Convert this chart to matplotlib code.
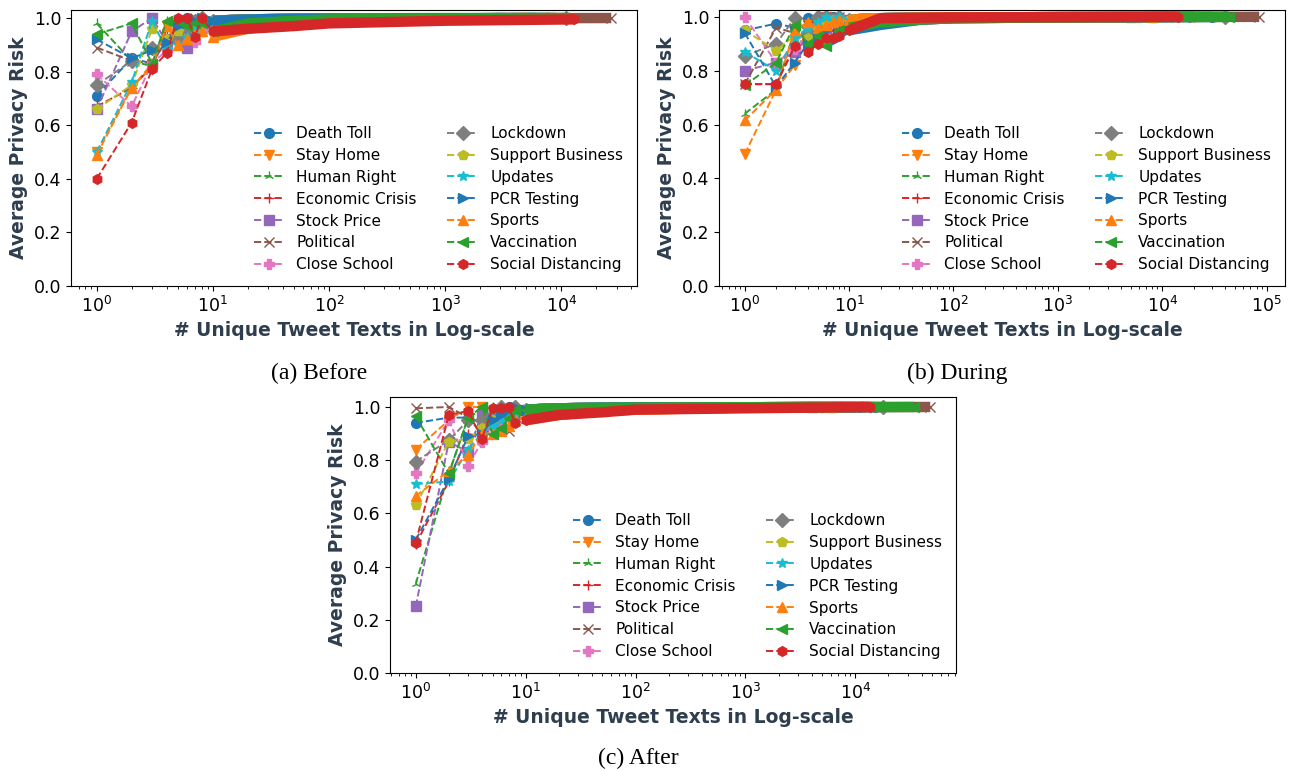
import matplotlib
matplotlib.use("Agg")
import matplotlib.pyplot as plt

# ---------------- data ----------------
topics = ["Death Toll", "Stay Home", "Human Right", "Economic Crisis", "Stock Price",
          "Political", "Close School", "Lockdown", "Support Business", "Updates",
          "PCR Testing", "Sports", "Vaccination", "Social Distancing"]
markers = ["o", "v", "2", "+", "s", "x", "P", "D", "p", "*", ">", "^", "<", "h"]
colors = ["#1f77b4", "#ff7f0e", "#2ca02c", "#d62728", "#9467bd", "#8c564b", "#e377c2",
          "#7f7f7f", "#bcbd22", "#17becf", "#1f77b4", "#ff7f0e", "#2ca02c", "#d62728"]

# x positions shared by every series (last x of each series given separately)
x_points = [1, 2, 3, 4, 5, 6, 7, 8, 10, 20, 50, 100, 1000]

# (a) Before
before_last_x = [9000, 8000, 7000, 6000, 3000, 27000, 4000, 11000, 5000, 6000, 8000, 5000, 12000, 13000]
before_y = [
    [0.71, 0.85, 0.83, 0.92, 0.98, 1.00, 0.99, 1.00, 0.99, 0.995, 0.997, 0.998, 0.999, 1.0],
    [0.50, 0.74, 0.83, 0.97, 0.95, 0.97, 0.99, 0.98, 0.97, 0.98, 0.99, 0.995, 0.998, 1.0],
    [0.98, 0.84, 0.82, 0.99, 0.99, 1.00, 0.99, 1.00, 0.99, 0.995, 0.998, 0.999, 1.0, 1.0],
    [0.67, 0.74, 0.82, 0.96, 1.00, 0.98, 0.99, 0.99, 0.98, 0.99, 0.995, 0.997, 0.999, 1.0],
    [0.66, 0.95, 1.00, 0.91, 0.93, 0.89, 0.95, 0.97, 0.98, 0.99, 0.995, 0.997, 0.999, 1.0],
    [0.89, 0.84, 0.83, 0.92, 0.97, 0.99, 1.00, 0.99, 0.99, 0.995, 0.997, 0.998, 0.999, 1.0],
    [0.79, 0.67, 0.83, 0.88, 0.93, 0.92, 0.91, 0.95, 0.97, 0.98, 0.99, 0.995, 0.998, 1.0],
    [0.75, 0.84, 0.89, 0.91, 0.93, 0.96, 0.99, 1.00, 0.99, 0.995, 0.997, 0.998, 0.999, 1.0],
    [0.66, 0.75, 0.96, 0.92, 0.95, 0.98, 0.97, 0.99, 0.99, 0.995, 0.997, 0.998, 0.999, 1.0],
    [0.50, 0.76, 0.99, 0.88, 0.90, 0.93, 0.96, 0.98, 0.99, 0.99, 0.995, 0.997, 0.999, 1.0],
    [0.92, 0.85, 0.88, 0.91, 0.97, 0.98, 0.99, 1.00, 0.99, 0.995, 0.997, 0.998, 0.999, 1.0],
    [0.49, 0.74, 0.82, 0.97, 0.90, 0.92, 0.94, 0.95, 0.93, 0.96, 0.98, 0.99, 0.995, 1.0],
    [0.94, 0.98, 0.83, 0.99, 0.99, 0.97, 0.98, 0.98, 0.95, 0.98, 0.99, 0.995, 0.998, 1.0],
    [0.40, 0.61, 0.81, 0.87, 1.00, 1.00, 0.93, 1.00, 0.95, 0.96, 0.97, 0.98, 0.99, 0.995],
]

# (b) During
during_last_x = [30000, 20000, 15000, 12000, 5000, 85000, 6000, 40000, 10000, 25000, 20000, 8000, 44000, 14000]
during_y = [
    [0.95, 0.975, 0.96, 0.995, 0.99, 1.00, 1.00, 0.99, 0.99, 0.995, 0.997, 0.998, 0.999, 1.0],
    [0.49, 0.73, 0.82, 0.97, 0.99, 1.00, 0.99, 0.99, 0.98, 0.99, 0.995, 0.997, 0.999, 1.0],
    [0.64, 0.73, 0.95, 0.90, 0.93, 0.96, 0.98, 0.99, 0.99, 0.995, 0.997, 0.998, 0.999, 1.0],
    [0.75, 0.75, 0.89, 0.88, 0.91, 0.93, 0.95, 0.96, 0.97, 0.98, 0.99, 0.995, 0.998, 1.0],
    [0.80, 0.83, 0.87, 0.92, 0.94, 0.96, 0.98, 0.99, 0.99, 0.995, 0.997, 0.998, 0.999, 1.0],
    [0.75, 0.96, 0.94, 0.97, 0.99, 1.00, 0.99, 1.00, 0.99, 0.995, 0.997, 0.998, 0.999, 1.0],
    [1.00, 0.83, 0.88, 0.94, 0.96, 0.98, 0.99, 0.99, 0.99, 0.995, 0.997, 0.998, 0.999, 1.0],
    [0.855, 0.90, 0.995, 0.94, 1.00, 1.00, 0.99, 1.00, 0.99, 0.995, 0.997, 0.998, 0.999, 1.0],
    [0.95, 0.875, 0.93, 0.92, 0.96, 0.98, 0.99, 0.99, 0.99, 0.995, 0.997, 0.998, 0.999, 1.0],
    [0.87, 0.80, 0.92, 0.96, 0.98, 1.00, 0.99, 1.00, 0.99, 0.995, 0.997, 0.998, 0.999, 1.0],
    [0.94, 0.74, 0.83, 0.90, 0.93, 0.95, 0.91, 0.93, 0.95, 0.97, 0.99, 0.995, 0.998, 1.0],
    [0.615, 0.73, 0.95, 0.98, 0.96, 0.97, 0.98, 0.99, 0.99, 0.995, 0.997, 0.998, 0.999, 1.0],
    [0.745, 0.83, 0.97, 0.90, 0.93, 0.89, 0.93, 0.95, 0.96, 0.98, 0.99, 0.995, 0.998, 1.0],
    [0.75, 0.75, 0.89, 0.87, 0.90, 0.92, 0.92, 0.93, 0.95, 0.995, 0.997, 0.998, 0.999, 1.0],
]

# (c) After
after_last_x = [15000, 12000, 10000, 8000, 4000, 48000, 5000, 18000, 7000, 9000, 12000, 6000, 34000, 13500]
after_y = [
    [0.94, 0.96, 0.96, 0.90, 0.95, 0.99, 1.00, 0.99, 0.99, 0.995, 0.997, 0.998, 0.999, 1.0],
    [0.84, 0.95, 1.00, 1.00, 0.92, 0.93, 0.95, 0.97, 0.95, 0.97, 0.985, 0.99, 0.998, 1.0],
    [0.335, 0.75, 0.96, 0.99, 1.00, 0.92, 0.98, 0.99, 0.99, 0.995, 0.997, 0.998, 0.999, 1.0],
    [0.485, 0.72, 0.90, 0.88, 0.93, 0.96, 0.98, 0.99, 0.99, 0.995, 0.997, 0.998, 0.999, 1.0],
    [0.25, 0.87, 0.83, 0.975, 0.95, 0.97, 0.98, 0.99, 0.99, 0.995, 0.997, 0.998, 0.999, 1.0],
    [0.995, 1.00, 0.96, 0.94, 0.94, 0.93, 0.91, 0.95, 0.96, 0.98, 0.99, 0.995, 0.998, 1.0],
    [0.75, 0.95, 0.78, 0.87, 0.92, 0.95, 0.97, 0.98, 0.99, 0.995, 0.997, 0.998, 0.999, 1.0],
    [0.795, 0.875, 0.95, 0.95, 0.97, 1.00, 0.99, 1.00, 0.99, 0.995, 0.997, 0.998, 0.999, 1.0],
    [0.63, 0.87, 0.88, 0.92, 0.95, 0.97, 0.98, 0.99, 0.99, 0.995, 0.997, 0.998, 0.999, 1.0],
    [0.71, 0.72, 0.84, 0.90, 0.93, 0.95, 0.97, 0.98, 0.99, 0.995, 0.997, 0.998, 0.999, 1.0],
    [0.50, 0.73, 0.89, 0.90, 0.95, 0.97, 0.99, 1.00, 0.99, 0.995, 0.997, 0.998, 0.999, 1.0],
    [0.665, 0.76, 0.82, 0.90, 0.90, 0.91, 0.93, 0.95, 0.96, 0.97, 0.985, 0.99, 0.998, 1.0],
    [0.965, 0.75, 0.96, 1.00, 0.90, 0.92, 0.96, 0.99, 0.99, 0.995, 0.997, 0.998, 0.999, 1.0],
    [0.49, 0.97, 0.985, 0.88, 0.995, 0.995, 1.00, 0.94, 0.95, 0.97, 0.98, 0.99, 0.995, 1.0],
]

captions = ["(a) Before", "(b) During", "(c) After"]
xlabel = "# Unique Tweet Texts in Log-scale"
ylabel = "Average Privacy Risk"

# ---------------- figure ----------------
W, H = 1296, 771
fig = plt.figure(figsize=(W / 100, H / 100), dpi=100)
label_color = "#2f3e4e"


def px_axes(left, top, right, bottom):
    return fig.add_axes([left / W, 1 - bottom / H, (right - left) / W, (bottom - top) / H])


axes = [px_axes(71, 10, 637, 286), px_axes(719, 10, 1285, 286), px_axes(390, 397, 956, 673)]
panels = [(before_last_x, before_y), (during_last_x, during_y), (after_last_x, after_y)]

for ax, (last_x, ys) in zip(axes, panels):
    for i, name in enumerate(topics):
        xs = x_points + [last_x[i]]
        y = ys[i]
        n = len(xs)
        ax.plot(xs, y, linestyle="--", marker=markers[i], color=colors[i], markersize=7,
                linewidth=1.4, label=name, markevery=list(range(9)) + [n - 1])
        # dense overlapping markers at large x form a thick band
        ax.plot(xs[8:], y[8:], linestyle="-", color=colors[i], linewidth=7.5,
                solid_capstyle="butt")
    ax.set_xscale("log")
    ax.set_ylim(bottom=0)
    ax.tick_params(labelsize=12.5)
    ax.set_xlabel(xlabel, fontsize=13.5, fontweight="bold", color=label_color, labelpad=4)
    ax.set_ylabel(ylabel, fontsize=13.5, fontweight="bold", color=label_color, labelpad=4)
    ax.legend(loc="lower right", ncol=2, frameon=False, fontsize=11, labelspacing=0.45)

cap_pos = [(319, 373), (957, 373), (638, 758)]
for (cx, cy), cap in zip(cap_pos, captions):
    fig.text(cx / W, 1 - cy / H, cap, ha="center", va="center", fontsize=17,
             family="Liberation Serif")

fig.savefig("out.png", dpi=100)
